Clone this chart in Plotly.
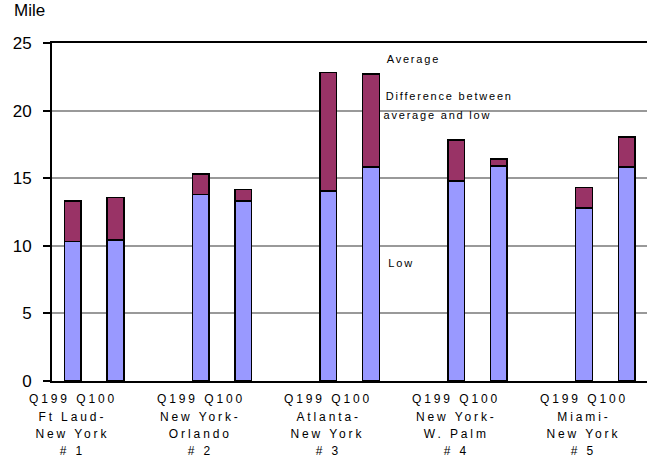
import plotly.graph_objects as go

# Trip mileage per route: low and average, two quarters each
periods = ["Q199", "Q100"]
routes = [
    ["Ft Laud-", "New York", "# 1"],
    ["New York-", "Orlando", "# 2"],
    ["Atlanta-", "New York", "# 3"],
    ["New York-", "W. Palm", "# 4"],
    ["Miami-", "New York", "# 5"],
]
low = [10.30, 10.42, 13.80, 13.33, 14.04, 15.84, 14.80, 15.91, 12.81, 15.82]
average = [13.30, 13.58, 15.32, 14.17, 22.82, 22.71, 17.81, 16.43, 14.32, 18.06]
y_ticks = [0, 5, 10, 15, 20, 25]

FONT = "Liberation Sans, Arial, sans-serif"
LOW_COLOR = "#9999FF"
DIFF_COLOR = "#993366"

# each route occupies three slots: one per quarter plus a gap
xpos = [3 * g + p for g in range(len(routes)) for p in range(len(periods))]
diff = [a - l for a, l in zip(average, low)]

fig = go.Figure()
fig.add_trace(go.Bar(
    x=xpos, y=low, width=0.39, name="Low",
    marker=dict(color=LOW_COLOR, line=dict(color="black", width=1.5)),
))
fig.add_trace(go.Bar(
    x=xpos, y=diff, width=0.39, name="Difference between average and low",
    marker=dict(color=DIFF_COLOR, line=dict(color="black", width=1.5)),
))

annotations = []
# category labels under each route
line_y = [-0.052, -0.106, -0.158, -0.207]
for g, lines in enumerate(routes):
    texts = [" ".join(periods)] + lines
    for t, yy in zip(texts, line_y):
        annotations.append(dict(
            x=3 * g, y=yy, xref="x", yref="paper", text=t, showarrow=False,
            xanchor="center", yanchor="middle",
            font=dict(family=FONT, size=12, color="black"),
        ))

# in-plot series labels
for t, xx, yy in [("Average", 8.0, 23.8),
                  ("Difference between", 8.84, 21.06),
                  ("average and low", 8.57, 19.66),
                  ("Low", 7.7, 8.72)]:
    annotations.append(dict(
        x=xx, y=yy, xref="x", yref="y", text=t, showarrow=False,
        xanchor="center", yanchor="middle",
        font=dict(family=FONT, size=11, color="black"),
    ))

# unit label above the value axis
annotations.append(dict(
    x=-0.0667, y=1.095, xref="paper", yref="paper", text="Mile",
    showarrow=False, xanchor="left", yanchor="middle",
    font=dict(family=FONT, size=17, color="black"),
))

fig.update_layout(
    width=647, height=459,
    margin=dict(l=52, r=0, t=43, b=78),
    barmode="stack",
    showlegend=False,
    plot_bgcolor="white", paper_bgcolor="white",
    font=dict(family=FONT, color="black"),
    annotations=annotations,
    xaxis=dict(
        range=[-0.49, 13.48], showgrid=False, zeroline=False,
        showticklabels=False, ticks="",
        showline=True, linecolor="black", linewidth=2, mirror=True,
    ),
    yaxis=dict(
        range=[0, 25], tickvals=y_ticks, ticks="outside", ticklen=7,
        tickwidth=1.5, tickcolor="black", ticklabelstandoff=8,
        tickfont=dict(family=FONT, size=17, color="black"),
        showgrid=True, gridcolor="#999999", gridwidth=1.5, zeroline=False,
        showline=True, linecolor="black", linewidth=2,
    ),
)

# widen the character spacing of the small labels
post = """
var gd = document.getElementById('{plot_id}');
gd.querySelectorAll('text.annotation-text').forEach(function (t) {
  var fs = parseFloat(t.style.fontSize);
  if (fs <= 11) { t.style.letterSpacing = '1.8px'; }
  else if (fs <= 12) { t.style.letterSpacing = '2.9px'; }
});
"""

fig.write_html("out.html", post_script=post)
